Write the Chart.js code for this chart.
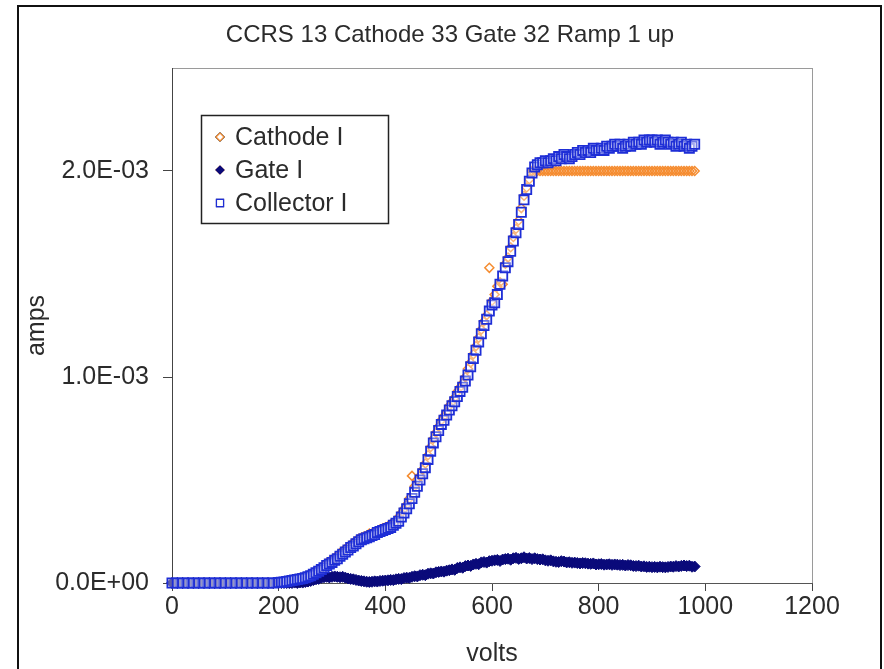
<!DOCTYPE html>
<html>
<head>
<meta charset="utf-8">
<script src="https://cdn.jsdelivr.net/npm/chart.js@4.4.1/dist/chart.umd.min.js"></script>
<style>
  body { margin: 0; background: #fff; }
  canvas { display: block; }
</style>
</head>
<body>
<canvas id="ramp" width="884" height="669"></canvas>
<script>
// volts: 10 V steps up to 200, then 5 V steps
const volts = [
  0, 10, 20, 30, 40, 50, 60, 70, 80, 90, 100, 110, 120, 130, 140, 150, 160, 170, 180, 190, 200,
  205, 210, 215, 220, 225, 230, 235, 240, 245, 250, 255, 260, 265, 270, 275, 280, 285, 290, 295, 300,
  305, 310, 315, 320, 325, 330, 335, 340, 345, 350, 355, 360, 365, 370, 375, 380, 385, 390, 395, 400,
  405, 410, 415, 420, 425, 430, 435, 440, 445, 450, 455, 460, 465, 470, 475, 480, 485, 490, 495, 500,
  505, 510, 515, 520, 525, 530, 535, 540, 545, 550, 555, 560, 565, 570, 575, 580, 585, 590, 595, 600,
  605, 610, 615, 620, 625, 630, 635, 640, 645, 650, 655, 660, 665, 670, 675, 680, 685, 690, 695, 700,
  705, 710, 715, 720, 725, 730, 735, 740, 745, 750, 755, 760, 765, 770, 775, 780, 785, 790, 795, 800,
  805, 810, 815, 820, 825, 830, 835, 840, 845, 850, 855, 860, 865, 870, 875, 880, 885, 890, 895, 900,
  905, 910, 915, 920, 925, 930, 935, 940, 945, 950, 955, 960, 965, 970, 975, 980
];

// currents in mA (axis labels are shown in amps)
const cathodeI = [
  0, 0, 0, 0, 0, 0, 0, 0, 0, 0, 0, 0, 0, 0, 0, 0, 0, 0, 0, 0, 0.002,
  0.005, 0.006, 0.008, 0.012, 0.014, 0.018, 0.02, 0.024, 0.027, 0.03, 0.036, 0.042, 0.05, 0.058, 0.066, 0.075, 0.085, 0.097, 0.104, 0.112,
  0.122, 0.13, 0.145, 0.155, 0.165, 0.175, 0.185, 0.195, 0.205, 0.215, 0.22, 0.225, 0.23, 0.24, 0.24, 0.245, 0.25, 0.26, 0.265, 0.27,
  0.275, 0.285, 0.29, 0.30, 0.32, 0.34, 0.36, 0.38, 0.41, 0.52, 0.47, 0.50, 0.52, 0.55, 0.58, 0.62, 0.66, 0.70, 0.73, 0.76,
  0.79, 0.81, 0.83, 0.86, 0.88, 0.90, 0.93, 0.95, 0.97, 1.00, 1.04, 1.07, 1.11, 1.15, 1.19, 1.23, 1.27, 1.30, 1.53, 1.37,
  1.40, 1.44, 1.46, 1.45, 1.55, 1.58, 1.63, 1.68, 1.72, 1.76, 1.82, 1.88, 1.92, 1.96, 2.0, 2.0, 2.0, 2.0, 2.0, 2.0,
  2.0, 2.0, 2.0, 2.0, 2.0, 2.0, 2.0, 2.0, 2.0, 2.0, 2.0, 2.0, 2.0, 2.0, 2.0, 2.0, 2.0, 2.0, 2.0, 2.0,
  2.0, 2.0, 2.0, 2.0, 2.0, 2.0, 2.0, 2.0, 2.0, 2.0, 2.0, 2.0, 2.0, 2.0, 2.0, 2.0, 2.0, 2.0, 2.0, 2.0,
  2.0, 2.0, 2.0, 2.0, 2.0, 2.0, 2.0, 2.0, 2.0, 2.0, 2.0, 2.0, 2.0, 2.0, 2.0, 2.0
];

const gateI = [
  0, 0, 0, 0, 0, 0, 0, 0, 0, 0, 0, 0, 0, 0, 0, 0, 0, 0, 0, 0, 0,
  0, 0, 0, 0, 0, 0.002, 0, 0.003, 0.002, 0.005, 0.007, 0.01, 0.014, 0.018, 0.02, 0.025, 0.028, 0.03, 0.027, 0.03,
  0.032, 0.03, 0.028, 0.03, 0.026, 0.022, 0.02, 0.018, 0.015, 0.012, 0.01, 0.008, 0.006, 0.005, 0.006, 0.008, 0.007, 0.01, 0.011, 0.012,
  0.013, 0.015, 0.014, 0.018, 0.02, 0.019, 0.024, 0.026, 0.025, 0.03, 0.033, 0.032, 0.038, 0.04, 0.038, 0.045, 0.047, 0.046, 0.052, 0.054,
  0.056, 0.055, 0.06, 0.062, 0.066, 0.064, 0.073, 0.076, 0.074, 0.082, 0.085, 0.083, 0.09, 0.093, 0.091, 0.1, 0.102, 0.099, 0.106, 0.108,
  0.11, 0.112, 0.107, 0.114, 0.116, 0.118, 0.113, 0.12, 0.122, 0.117, 0.12, 0.125, 0.119, 0.121, 0.116, 0.12, 0.116, 0.114, 0.115, 0.11,
  0.108, 0.11, 0.105, 0.103, 0.102, 0.106, 0.104, 0.1, 0.101, 0.098, 0.099, 0.097, 0.095, 0.097, 0.096, 0.094, 0.093, 0.095, 0.09, 0.091,
  0.092, 0.089, 0.09, 0.091, 0.088, 0.09, 0.089, 0.087, 0.088, 0.085, 0.087, 0.086, 0.083, 0.082, 0.084, 0.08, 0.081, 0.078, 0.079, 0.077,
  0.078, 0.076, 0.079, 0.077, 0.076, 0.078, 0.08, 0.079, 0.082, 0.08, 0.083, 0.085, 0.082, 0.084, 0.079, 0.08
];

const collectorI = [
  0, 0, 0, 0, 0, 0, 0, 0, 0, 0, 0, 0, 0, 0, 0, 0, 0, 0, 0, 0, 0.002,
  0.004, 0.005, 0.007, 0.01, 0.012, 0.015, 0.017, 0.02, 0.022, 0.025, 0.03, 0.035, 0.042, 0.05, 0.057, 0.065, 0.074, 0.085, 0.092, 0.10,
  0.11, 0.118, 0.13, 0.14, 0.15, 0.16, 0.172, 0.18, 0.19, 0.20, 0.21, 0.215, 0.22, 0.225, 0.23, 0.235, 0.245, 0.25, 0.255, 0.26,
  0.265, 0.27, 0.28, 0.29, 0.30, 0.32, 0.34, 0.36, 0.385, 0.41, 0.44, 0.47, 0.50, 0.53, 0.56, 0.60, 0.64, 0.68, 0.71, 0.74,
  0.77, 0.79, 0.815, 0.84, 0.86, 0.88, 0.905, 0.93, 0.95, 0.98, 1.01, 1.05, 1.09, 1.13, 1.17, 1.21, 1.25, 1.28, 1.32, 1.35,
  1.36, 1.40, 1.45, 1.49, 1.53, 1.56, 1.61, 1.66, 1.70, 1.74, 1.80, 1.86, 1.91, 1.95, 1.99, 2.02, 2.03, 2.04, 2.04, 2.05,
  2.04, 2.05, 2.06, 2.05, 2.07, 2.06, 2.08, 2.07, 2.06, 2.07, 2.08, 2.09, 2.08, 2.10, 2.09, 2.10, 2.09, 2.11, 2.10, 2.10,
  2.11, 2.10, 2.12, 2.11, 2.12, 2.13, 2.12, 2.13, 2.11, 2.12, 2.13, 2.12, 2.14, 2.13, 2.14, 2.13, 2.15, 2.14, 2.15, 2.15,
  2.14, 2.15, 2.13, 2.14, 2.15, 2.14, 2.13, 2.14, 2.12, 2.13, 2.14, 2.12, 2.13, 2.11, 2.12, 2.13
];

const yTicks = [0, 1, 2];

const FONT = "'Liberation Sans', Arial, sans-serif";
const TEXT = "#2b2b2b";

function pts(ys) {
  return volts.map((v, i) => ({ x: v, y: ys[i] }));
}

function sci(mA) {
  const parts = (mA / 1000).toExponential(1).split("e");
  const e = Number(parts[1]);
  return parts[0] + "E" + (e < 0 ? "-" : "+") + String(Math.abs(e)).padStart(2, "0");
}

const framePlugin = {
  id: "frame",
  beforeDraw(chart) {
    const ctx = chart.ctx;
    const a = chart.chartArea;
    ctx.save();
    ctx.fillStyle = "#fff";
    ctx.fillRect(0, 0, chart.width, chart.height);
    ctx.strokeStyle = "#111";
    ctx.lineWidth = 2;
    ctx.strokeRect(18, 6, 863, 700);
    ctx.strokeStyle = "#9a9a9a";
    ctx.lineWidth = 1;
    ctx.strokeRect(a.left + 0.5, a.top + 0.5, a.right - a.left, a.bottom - a.top);
    ctx.fillStyle = TEXT;
    ctx.font = "24px " + FONT;
    ctx.textAlign = "center";
    ctx.textBaseline = "middle";
    ctx.fillText("CCRS 13 Cathode 33 Gate 32 Ramp 1 up", 450, 35);
    ctx.restore();
  },
  afterDraw(chart) {
    const ctx = chart.ctx;
    const box = { x: 201, y: 115, w: 187, h: 108 };
    ctx.save();
    ctx.fillStyle = "#fff";
    ctx.fillRect(box.x, box.y, box.w, box.h);
    ctx.strokeStyle = "#222";
    ctx.lineWidth = 1.5;
    ctx.strokeRect(box.x + 0.5, box.y + 0.5, box.w, box.h);
    ctx.font = "25px " + FONT;
    ctx.textBaseline = "middle";
    chart.data.datasets.forEach((ds, i) => {
      const cy = box.y + 22 + i * 33;
      Chart.helpers.drawPoint(ctx, {
        pointStyle: ds.pointStyle,
        radius: ds.pointStyle === "rect" ? 5 : 4,
        borderWidth: 1.2,
        rotation: 0
      }, 220, cy);
      ctx.fillStyle = ds.legendFill;
      ctx.strokeStyle = ds.borderColor;
      ctx.lineWidth = 1.2;
      ctx.fill();
      ctx.stroke();
      ctx.fillStyle = TEXT;
      ctx.fillText(ds.label, 235, cy + 1);
    });
    ctx.restore();
  }
};

new Chart("ramp", {
  type: "scatter",
  data: {
    datasets: [
      {
        label: "Cathode I",
        data: pts(cathodeI),
        pointStyle: "rectRot",
        pointRadius: 4.5,
        borderWidth: 1.5,
        borderColor: "#f58c30",
        backgroundColor: "rgba(255,255,255,0)",
        legendFill: "#ffffff",
        order: 2,
        clip: false
      },
      {
        label: "Gate I",
        data: pts(gateI),
        pointStyle: "rectRot",
        pointRadius: 5.5,
        borderWidth: 1,
        borderColor: "#0a0a7a",
        backgroundColor: "#0a0a7a",
        legendFill: "#0a0a7a",
        order: 1,
        clip: false
      },
      {
        label: "Collector I",
        data: pts(collectorI),
        pointStyle: "rect",
        pointRadius: 6.5,
        borderWidth: 1.8,
        borderColor: "#1e2ed6",
        backgroundColor: "rgba(255,255,255,0.35)",
        legendFill: "#ffffff",
        order: 0,
        clip: false
      }
    ]
  },
  options: {
    responsive: false,
    animation: false,
    layout: { padding: { top: 68, right: 72, left: 20, bottom: 0 } },
    plugins: {
      legend: { display: false },
      title: { display: false },
      tooltip: { enabled: false }
    },
    scales: {
      x: {
        type: "linear",
        min: 0,
        max: 1200,
        ticks: {
          stepSize: 200,
          padding: 1,
          maxRotation: 0,
          color: TEXT,
          font: { family: FONT, size: 25 },
          callback: v => String(v)
        },
        grid: { drawOnChartArea: false, tickLength: 8, color: "#444" },
        border: { color: "#555" },
        title: {
          display: true,
          text: "volts",
          color: TEXT,
          font: { family: FONT, size: 25 },
          padding: { top: 0, bottom: 0 }
        },
        afterFit(s) { s.height = 86; }
      },
      y: {
        min: 0,
        max: 2.5,
        afterBuildTicks(s) { s.ticks = yTicks.map(value => ({ value })); },
        ticks: {
          padding: 14,
          color: TEXT,
          font: { family: FONT, size: 25 },
          callback: v => sci(v)
        },
        grid: { drawOnChartArea: false, tickLength: 9, color: "#444" },
        border: { color: "#444" },
        title: {
          display: true,
          text: "amps",
          color: TEXT,
          font: { family: FONT, size: 25 },
          padding: { top: 2, bottom: 0 }
        },
        afterFit(s) { s.width = 152; }
      }
    }
  },
  plugins: [framePlugin]
});
</script>
</body>
</html>
